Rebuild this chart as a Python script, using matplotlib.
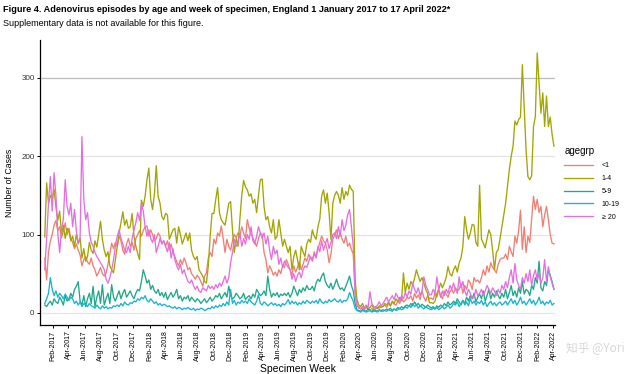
import matplotlib
matplotlib.use("Agg")
import matplotlib.pyplot as plt
import matplotlib.dates as mdates
from matplotlib import font_manager
import pandas as pd

# weekly counts, week 1 = w/c 2 Jan 2017, 13 weeks per row
lt1 = [
    70, 42, 78, 92, 100, 112, 118, 105, 110, 96, 104, 115, 100,
    108, 95, 90, 82, 88, 80, 74, 60, 68, 72, 65, 62, 70,
    60, 55, 47, 52, 58, 50, 47, 51, 62, 75, 89, 82, 90,
    85, 98, 92, 80, 75, 88, 95, 85, 90, 80, 95, 100, 105,
    98, 105, 110, 111, 98, 106, 100, 92, 95, 102, 98, 88, 92,
    85, 92, 80, 88, 77, 72, 65, 60, 68, 62, 70, 64, 55,
    58, 50, 47, 43, 48, 45, 40, 34, 47, 51, 70, 77, 72,
    94, 88, 102, 98, 111, 95, 77, 94, 85, 80, 92, 100, 96,
    102, 98, 110, 102, 95, 119, 108, 100, 96, 90, 85, 95, 102,
    100, 77, 68, 51, 60, 55, 48, 52, 47, 55, 50, 60, 58,
    68, 62, 55, 48, 60, 52, 58, 65, 55, 62, 70, 66, 75,
    70, 66, 78, 72, 81, 90, 98, 92, 89, 80, 64, 75, 94,
    100, 106, 95, 102, 94, 89, 98, 85, 89, 81, 75, 26, 9,
    8, 5, 6, 4, 7, 5, 3, 6, 4, 5, 7, 6, 9,
    8, 10, 7, 12, 9, 14, 11, 10, 15, 12, 18, 14, 16,
    20, 18, 22, 15, 25, 19, 23, 17, 28, 20, 15, 22, 18,
    19, 17, 25, 20, 30, 22, 18, 28, 24, 20, 27, 30, 25,
    32, 28, 30, 38, 25, 35, 30, 42, 38, 30, 45, 40, 42,
    38, 45, 55, 48, 60, 52, 64, 58, 55, 51, 62, 68, 70,
    70, 75, 68, 85, 78, 72, 98, 89, 105, 131, 81, 110, 77,
    98, 90, 120, 149, 132, 145, 128, 136, 110, 125, 136, 119, 100,
    89, 88,
]
age1_4 = [
    97, 166, 140, 150, 145, 158, 135, 118, 130, 100, 112, 95, 108,
    104, 92, 98, 85, 100, 88, 96, 70, 82, 66, 72, 90, 80,
    76, 92, 84, 100, 117, 94, 80, 72, 78, 60, 55, 51, 68,
    85, 102, 115, 129, 112, 119, 108, 110, 127, 98, 85, 76, 68,
    144, 136, 149, 170, 185, 145, 132, 152, 188, 149, 140, 123, 119,
    127, 125, 94, 100, 106, 108, 89, 110, 100, 88, 95, 102, 92,
    102, 80, 72, 68, 72, 55, 51, 47, 40, 38, 60, 98, 127,
    127, 145, 160, 128, 119, 115, 112, 125, 140, 142, 106, 77, 95,
    85, 120, 150, 169, 161, 157, 149, 152, 140, 145, 128, 150, 170,
    171, 136, 119, 123, 110, 102, 119, 94, 98, 119, 102, 85, 94,
    85, 77, 85, 55, 72, 80, 68, 55, 85, 78, 72, 88, 94,
    90, 106, 98, 94, 110, 120, 149, 157, 140, 153, 128, 94, 140,
    150, 155, 150, 140, 160, 145, 155, 150, 163, 158, 155, 43, 17,
    10, 8, 12, 6, 9, 5, 7, 10, 6, 8, 5, 9, 7,
    8, 12, 10, 14, 9, 15, 12, 18, 14, 20, 16, 51, 26,
    38, 30, 40, 36, 44, 55, 47, 40, 45, 38, 30, 25, 13,
    13, 12, 15, 25, 30, 38, 32, 38, 45, 59, 50, 47, 55,
    60, 52, 64, 70, 85, 123, 106, 94, 102, 113, 112, 90, 85,
    163, 94, 89, 83, 95, 106, 100, 80, 55, 77, 81, 95, 110,
    125, 140, 161, 183, 200, 213, 245, 240, 247, 250, 317, 263, 208,
    174, 170, 175, 238, 251, 332, 293, 255, 281, 238, 277, 238, 250,
    228, 213,
]
age5_9 = [
    10, 8, 12, 15, 10, 18, 14, 12, 20, 16, 10, 22, 15,
    18, 25, 20, 30, 34, 40, 15, 10, 22, 8, 18, 25, 12,
    34, 8, 20, 28, 12, 36, 10, 18, 25, 12, 36, 20, 15,
    22, 28, 18, 25, 30, 20, 24, 28, 22, 18, 25, 30, 28,
    40, 55, 47, 38, 42, 30, 35, 28, 25, 30, 22, 26, 20,
    26, 17, 22, 26, 20, 24, 30, 18, 22, 15, 20, 18, 22,
    15, 20, 17, 14, 18, 16, 12, 15, 18, 13, 16, 20, 15,
    18, 22, 20, 25, 18, 22, 26, 20, 34, 22, 18, 20, 25,
    22, 18, 20, 25, 17, 20, 22, 18, 24, 20, 30, 26, 22,
    24, 28, 22, 47, 30, 20, 25, 22, 26, 20, 24, 22, 25,
    22, 26, 20, 25, 34, 28, 22, 30, 26, 32, 28, 35, 30,
    30, 34, 28, 38, 43, 40, 47, 51, 40, 35, 32, 38, 30,
    36, 43, 35, 30, 32, 28, 34, 40, 47, 35, 28, 12, 4,
    3, 2, 4, 3, 2, 5, 3, 2, 4, 3, 2, 4, 3,
    4, 3, 5, 4, 6, 3, 5, 4, 7, 5, 8, 6, 9,
    10, 8, 12, 9, 14, 10, 12, 8, 11, 9, 7, 10, 8,
    6, 8, 5, 9, 7, 10, 8, 12, 9, 14, 10, 12, 15,
    12, 18, 14, 10, 16, 12, 20, 15, 22, 18, 25, 14, 20,
    24, 18, 28, 15, 22, 30, 18, 25, 20, 28, 22, 18, 25,
    20, 30, 18, 26, 35, 22, 28, 20, 32, 25, 40, 24, 30,
    28, 22, 35, 30, 45, 38, 66, 32, 28, 40, 35, 55, 48,
    40, 30,
]
age10_19 = [
    12, 18, 25, 45, 30, 22, 28, 20, 25, 22, 18, 24, 20,
    16, 20, 18, 12, 15, 10, 14, 8, 12, 10, 8, 12, 9,
    8, 6, 10, 7, 5, 9, 6, 8, 5, 7, 6, 9, 8,
    10, 8, 12, 9, 14, 11, 10, 13, 12, 15, 14, 18, 16,
    20, 18, 22, 16, 14, 18, 15, 12, 14, 10, 12, 9, 11,
    10, 8, 9, 7, 6, 8, 5, 7, 6, 4, 6, 5, 7,
    5, 4, 6, 3, 5, 4, 6, 5, 3, 4, 6, 5, 8,
    6, 9, 7, 10, 8, 12, 9, 14, 10, 30, 12, 16, 10,
    14, 12, 16, 13, 15, 12, 18, 14, 12, 10, 15, 23, 12,
    10, 14, 12, 9, 11, 13, 10, 12, 9, 11, 8, 12, 10,
    13, 17, 11, 15, 12, 14, 10, 13, 11, 15, 12, 16, 14,
    12, 15, 13, 16, 12, 18, 14, 12, 15, 13, 17, 14, 16,
    18, 15, 14, 17, 13, 16, 15, 18, 26, 20, 15, 6, 3,
    2, 1, 3, 2, 1, 2, 3, 1, 2, 2, 1, 3, 2,
    2, 3, 2, 4, 3, 2, 5, 3, 4, 6, 4, 5, 8,
    6, 9, 7, 12, 8, 10, 6, 9, 7, 5, 8, 6, 5,
    4, 6, 5, 7, 4, 6, 8, 5, 7, 10, 6, 8, 12,
    10, 14, 8, 12, 16, 10, 14, 9, 18, 12, 15, 10, 14,
    12, 16, 10, 14, 8, 12, 15, 10, 13, 9, 12, 14, 10,
    12, 15, 10, 14, 18, 12, 16, 10, 14, 20, 12, 15, 10,
    14, 18, 12, 16, 10, 14, 20, 12, 15, 10, 14, 12, 16,
    10, 12,
]
age20plus = [
    55, 95, 140, 174, 130, 179, 150, 102, 77, 106, 120, 170, 136,
    125, 140, 110, 132, 105, 89, 95, 225, 145, 119, 128, 102, 90,
    85, 77, 72, 68, 64, 60, 55, 43, 38, 45, 55, 68, 85,
    98, 106, 95, 88, 80, 77, 85, 77, 95, 106, 115, 128, 118,
    140, 130, 110, 98, 106, 95, 90, 100, 77, 85, 95, 88, 92,
    85, 78, 90, 70, 82, 68, 60, 55, 62, 50, 55, 47, 40,
    38, 42, 35, 30, 34, 28, 26, 32, 30, 28, 35, 31, 34,
    30, 36, 32, 38, 34, 40, 47, 38, 45, 64, 77, 94, 85,
    90, 102, 85, 95, 88, 100, 94, 110, 92, 88, 98, 110, 102,
    95, 102, 88, 98, 80, 68, 85, 75, 80, 62, 70, 58, 66,
    62, 58, 55, 43, 50, 40, 48, 52, 45, 55, 60, 58, 65,
    72, 68, 75, 70, 85, 78, 92, 80, 88, 95, 82, 90, 100,
    102, 95, 110, 98, 119, 105, 112, 125, 132, 110, 85, 26, 10,
    6, 5, 8, 6, 10, 7, 27, 12, 8, 6, 10, 14, 9,
    12, 16, 20, 14, 18, 22, 17, 25, 20, 15, 22, 18, 26,
    20, 28, 24, 38, 30, 25, 32, 22, 28, 46, 35, 30, 23,
    23, 30, 25, 46, 30, 20, 28, 22, 30, 25, 35, 30, 38,
    30, 25, 46, 32, 40, 28, 22, 30, 25, 18, 20, 30, 22,
    25, 30, 22, 28, 35, 30, 25, 32, 28, 22, 30, 25, 35,
    30, 40, 32, 45, 55, 38, 63, 42, 35, 30, 45, 38, 50,
    40, 55, 35, 48, 55, 42, 50, 38, 45, 68, 40, 59, 46,
    38, 30,
]

groups = ["<1", "1-4", "5-9", "10-19", "\u2265 20"]
series = [lt1, age1_4, age5_9, age10_19, age20plus]
colors = ["#F07F74", "#A3A500", "#1FA98A", "#19B4D2", "#E56FE0"]

weeks = pd.date_range("2017-01-02", periods=len(lt1), freq="7D")
tick_dates = pd.date_range("2017-02-01", "2022-04-01", freq="2MS")

names = {f.name for f in font_manager.fontManager.ttflist}
base = "Liberation Sans Narrow" if "Liberation Sans Narrow" in names else "Liberation Sans"
plt.rcParams["font.family"] = [base, "DejaVu Sans"]

fig = plt.figure(figsize=(6.34, 3.74), dpi=100)
ax = fig.add_axes([40 / 634, 49 / 374, 515 / 634, 285 / 374])

for vals, col, lab in zip(series, colors, groups):
    ax.plot(weeks, vals, color=col, lw=0.95, label=lab)

ax.set_ylim(-15.5, 348.5)
ax.set_xlim(pd.Timestamp("2016-12-15"), pd.Timestamp("2022-04-08"))
ax.set_yticks([0, 100, 200, 300])
for yv in [0, 100, 200]:
    ax.axhline(yv, color="#e4e4e4", lw=0.9, zorder=0)
ax.axhline(300, color="#bcbcbc", lw=0.9, zorder=0)

ax.set_xticks(tick_dates)
ax.xaxis.set_major_formatter(mdates.DateFormatter("%b-%Y"))
ax.tick_params(axis="x", labelrotation=90, labelsize=5, length=2.5, width=0.7, pad=1.5)
ax.tick_params(axis="y", labelsize=5.8, length=2.5, width=0.7, pad=1.5, labelcolor="#333333")
for s in ["top", "right"]:
    ax.spines[s].set_visible(False)
for s in ["left", "bottom"]:
    ax.spines[s].set_linewidth(0.9)

ax.set_ylabel("Number of Cases", fontsize=6.3, labelpad=5)
ax.set_xlabel("Specimen Week", fontsize=7.5, labelpad=2)

leg = ax.legend(loc="upper left", bbox_to_anchor=(558 / 634, 1 - 140 / 374),
                bbox_transform=fig.transFigure, frameon=False, title="agegrp",
                fontsize=5, title_fontsize=7, handlelength=4.2, labelspacing=0.85,
                handletextpad=1.2, alignment="left")

fig.text(3 / 634, 1 - 9 / 374,
         "Figure 4. Adenovirus episodes by age and week of specimen, England 1 January 2017 to 17 April 2022*",
         fontsize=6.6, fontweight="bold", va="center", ha="left")
fig.text(3 / 634, 1 - 23 / 374, "Supplementary data is not available for this figure.",
         fontsize=6.5, va="center", ha="left")
fig.text(566 / 634, 1 - 348 / 374, "知乎 @Yori", fontsize=8.5, color="#d8d8d8",
         family=["Noto Sans CJK SC", "DejaVu Sans"], va="center", ha="left")

fig.savefig("out.png", dpi=100)
